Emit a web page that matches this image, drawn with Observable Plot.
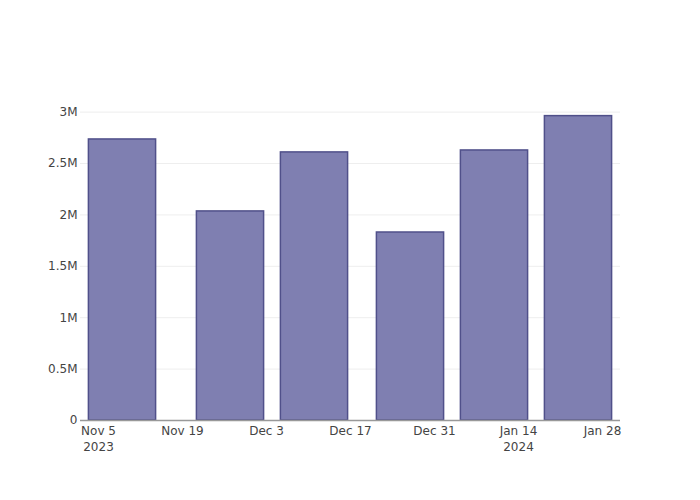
<!DOCTYPE html>
<html>
<head>
<meta charset="utf-8">
<script src="https://cdn.jsdelivr.net/npm/d3@7"></script>
<script src="https://cdn.jsdelivr.net/npm/@observablehq/plot@0.6"></script>
<style>
  html, body { margin: 0; padding: 0; background: #fff; }
  #chart { width: 700px; height: 500px; }
</style>
</head>
<body>
<div id="chart"></div>
<script>
// Data
const dates = ["2023-11-09", "2023-11-27", "2023-12-11", "2023-12-27", "2024-01-10", "2024-01-24"];
const values = [2734000, 2034000, 2608000, 1829000, 2627000, 2961000];

// Axis ticks
const xTickDates = ["2023-11-05", "2023-11-19", "2023-12-03", "2023-12-17", "2023-12-31", "2024-01-14", "2024-01-28"];
const xTickLabels = ["Nov 5\n2023", "Nov 19", "Dec 3", "Dec 17", "Dec 31", "Jan 14\n2024", "Jan 28"];
const yTicks = [0, 500000, 1000000, 1500000, 2000000, 2500000, 3000000];
const yTickLabels = ["0", "0.5M", "1M", "1.5M", "2M", "2.5M", "3M"];

const DAY = 24 * 3600 * 1000;
const halfWidth = 5.6 * DAY;

const data = dates.map((d, i) => ({ date: new Date(d + "T00:00:00Z"), value: values[i] }));
const xTicks = xTickDates.map(d => new Date(d + "T00:00:00Z"));

const chart = Plot.plot({
  width: 700,
  height: 500,
  marginLeft: 80,
  marginRight: 80,
  marginTop: 100,
  marginBottom: 80,
  style: { fontFamily: "'DejaVu Sans', sans-serif", fontSize: "12px", color: "#444", background: "#fff" },
  x: {
    type: "utc",
    domain: [new Date("2023-11-02T00:00:00Z"), new Date("2024-01-31T00:00:00Z")]
  },
  y: { domain: [0, 3113000] },
  marks: [
    Plot.ruleY(yTicks.filter(t => t > 0), { stroke: "#eeeeee", strokeWidth: 1 }),
    Plot.rectY(data, {
      x1: d => new Date(d.date.getTime() - halfWidth),
      x2: d => new Date(d.date.getTime() + halfWidth),
      y1: 0,
      y2: "value",
      fill: "#7f7fb1",
      stroke: "#50508a",
      strokeWidth: 1.5
    }),
    Plot.ruleY([0], { stroke: "#999", strokeWidth: 1.5 }),
    Plot.axisY({
      ticks: yTicks,
      tickSize: 0,
      tickPadding: 3,
      tickFormat: (d) => yTickLabels[yTicks.indexOf(d)],
      label: null,
      fill: "#444",
      fontSize: 12
    }),
    Plot.axisX({
      ticks: xTicks,
      tickSize: 0,
      tickPadding: 3,
      tickFormat: (d) => xTickLabels[xTicks.findIndex(t => t.getTime() === d.getTime())],
      label: null,
      fill: "#444",
      fontSize: 12,
      lineHeight: 1.35
    })
  ]
});

document.getElementById("chart").appendChild(chart);
</script>
</body>
</html>
